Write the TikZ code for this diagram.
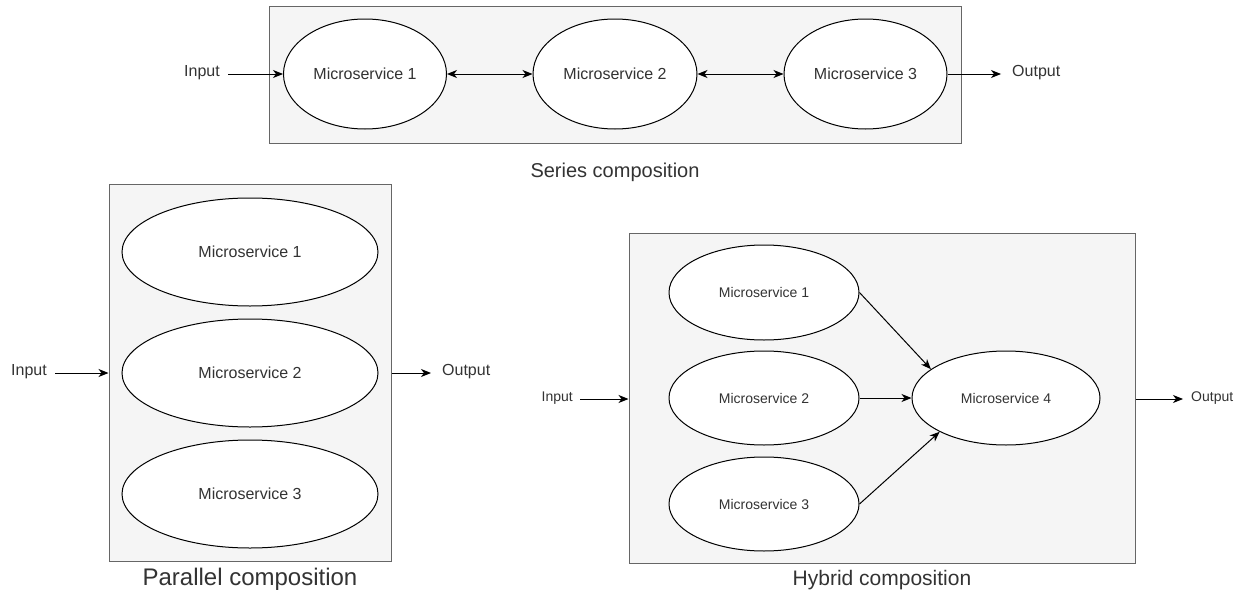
\documentclass[tikz,border=0pt]{standalone}
\usepackage{fontspec}
\setmainfont{Liberation Sans}
\usetikzlibrary{shapes.geometric,arrows.meta}
\definecolor{boxfill}{HTML}{F5F5F5}
\definecolor{boxline}{HTML}{666666}
\definecolor{txt}{HTML}{333333}
\tikzset{
  grp/.style={draw=boxline,fill=boxfill,line width=1pt,rectangle,inner sep=0pt},
  ms/.style={draw=black,fill=white,ellipse,line width=1pt,inner sep=0pt,text=txt},
  io/.style={text=txt,inner xsep=0pt,inner ysep=2pt},
  captxt/.style={text=txt,inner sep=0pt},
  conn/.style={line width=1pt,-{Stealth[length=10pt,width=8pt,inset=3pt]}},
  biconn/.style={line width=1pt,{Stealth[length=10pt,width=8pt,inset=3pt]}-{Stealth[length=10pt,width=8pt,inset=3pt]}},
  f16/.style={font=\fontsize{16}{19}\selectfont},
  f14/.style={font=\fontsize{14}{17}\selectfont},
}
\begin{document}
\begin{tikzpicture}[x=1pt,y=-1pt]
\useasboundingbox[fill=white] (0,0) rectangle (1243,597);
% ---------- Series ----------
\node[grp,minimum width=692pt,minimum height=137pt] (sbox) at (615,74.5) {};
\node[ms,f16,minimum width=163pt,minimum height=110pt] (s1) at (365,74) {Microservice 1};
\node[ms,f16,minimum width=164pt,minimum height=110pt] (s2) at (615,74) {Microservice 2};
\node[ms,f16,minimum width=163pt,minimum height=110pt] (s3) at (865.5,74) {Microservice 3};
\node[io,f16,anchor=mid east] (sin) at (220,74) {Input};
\node[io,f16,anchor=mid west] (sout) at (1012,74) {Output};
\draw[conn] ([xshift=8pt]sin.mid east) -- (s1.west);
\draw[biconn] (s1) -- (s2);
\draw[biconn] (s2) -- (s3);
\draw[conn] (s3.east) -- ([xshift=-11pt]sout.mid west);
\node[captxt,font=\fontsize{20}{24}\selectfont] (scap) at (615,172) {Series composition};
% ---------- Parallel ----------
\node[grp,minimum width=282pt,minimum height=377pt] (pbox) at (250,372.5) {};
\node[ms,f16,minimum width=256pt,minimum height=108pt] (p1) at (250,252) {Microservice 1};
\node[ms,f16,minimum width=256pt,minimum height=108pt] (p2) at (250,373) {Microservice 2};
\node[ms,f16,minimum width=256pt,minimum height=108pt] (p3) at (250,494) {Microservice 3};
\node[io,f16,anchor=mid east] (pin) at (47,373) {Input};
\node[io,f16,anchor=mid west] (pout) at (442,373) {Output};
\draw[conn] ([xshift=8pt]pin.mid east) -- (pbox.west |- pin.mid east);
\draw[conn] (pbox.east |- pout.mid west) -- ([xshift=-11pt]pout.mid west);
\node[captxt,font=\fontsize{24}{28}\selectfont] (pcap) at (250,579) {Parallel composition};
% ---------- Hybrid ----------
\node[grp,minimum width=506pt,minimum height=330pt] (hbox) at (882,398) {};
\node[ms,f14,minimum width=190pt,minimum height=95pt] (h1) at (764,292.5) {Microservice 1};
\node[ms,f14,minimum width=190pt,minimum height=94pt] (h2) at (764,398) {Microservice 2};
\node[ms,f14,minimum width=190pt,minimum height=94pt] (h3) at (764,504) {Microservice 3};
\node[ms,f14,minimum width=188pt,minimum height=94pt] (h4) at (1006,398) {Microservice 4};
\node[io,f14,anchor=mid east] (hin) at (573,399) {Input};
\node[io,f14,anchor=mid west] (hout) at (1191,399) {Output};
\draw[conn] ([xshift=7pt]hin.mid east) -- (hbox.west |- hin.mid east);
\draw[conn] (hbox.east |- hout.mid west) -- ([xshift=-8pt]hout.mid west);
\draw[conn] (h1.east) -- (h4.159);
\draw[conn] (h2.east) -- (h4.west);
\draw[conn] (h3.east) -- (h4.207);
\node[captxt,font=\fontsize{21}{25}\selectfont] (hcap) at (882,580) {Hybrid composition};
\end{tikzpicture}
\end{document}
